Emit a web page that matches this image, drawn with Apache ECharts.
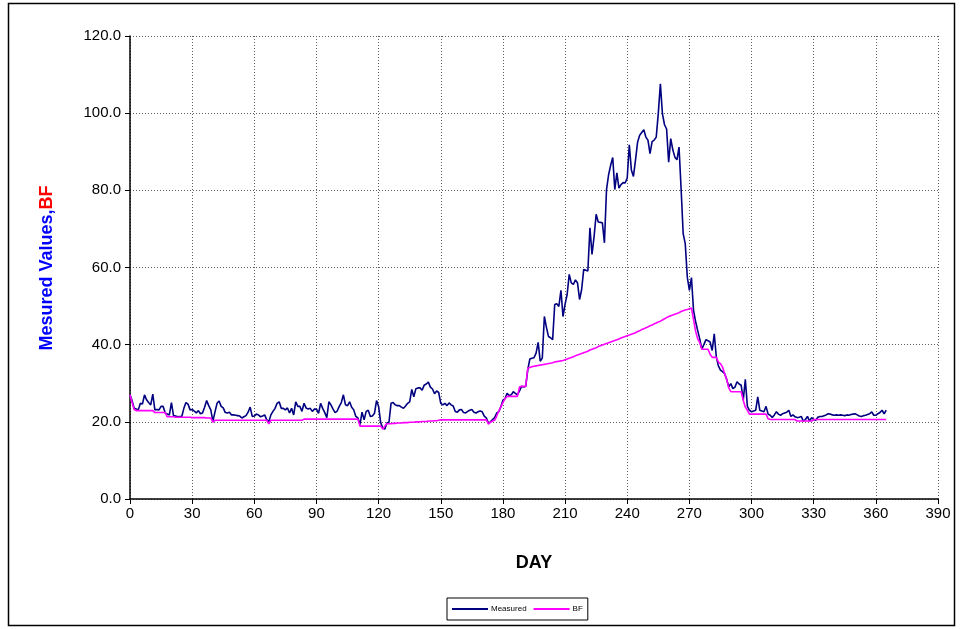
<!DOCTYPE html>
<html>
<head>
<meta charset="utf-8">
<script src="https://cdn.jsdelivr.net/npm/echarts@6/dist/echarts.min.js"></script>
<style>
  html, body { margin: 0; padding: 0; background: #fff; }
  #chart { width: 964px; height: 629px; }
</style>
</head>
<body>
<div id="chart"></div>
<script>
// Daily measured values, day 0 .. 365
const measured = [
  27.0, 25.5, 23.5, 23.3, 23.1, 24.8, 24.6, 27.0, 25.7, 25.0,
  24.4, 27.2, 23.1, 23.2, 23.1, 24.0, 24.0, 22.3, 22.0, 21.8,
  25.0, 21.6, 21.5, 21.3, 21.4, 21.4, 23.5, 25.0, 24.6, 23.1,
  23.2, 22.8, 22.3, 22.9, 22.1, 22.3, 23.8, 25.5, 24.2, 23.1,
  20.1, 22.5, 24.8, 25.4, 24.0, 23.6, 22.4, 22.3, 22.5, 21.8,
  21.8, 21.7, 21.6, 21.5, 21.0, 21.3, 21.6, 22.5, 23.8, 21.4,
  21.5, 22.0, 21.8, 21.3, 21.5, 21.8, 20.5, 20.0, 21.8, 22.7,
  23.5, 24.8, 25.2, 23.5, 23.5, 23.1, 23.6, 22.3, 23.5, 21.8,
  25.2, 24.0, 24.0, 22.7, 24.8, 23.6, 23.3, 23.5, 22.7, 23.3,
  23.3, 22.2, 24.8, 23.5, 22.4, 21.1, 25.2, 24.4, 23.3, 22.4,
  22.8, 24.0, 25.0, 27.0, 24.4, 24.2, 25.2, 23.8, 23.1, 21.4,
  21.0, 19.3, 22.5, 20.5, 22.7, 23.0, 21.4, 21.5, 22.2, 25.5,
  24.0, 19.8, 18.4, 18.1, 19.7, 19.9, 24.8, 25.0, 24.4, 24.2,
  24.2, 23.8, 23.5, 24.1, 24.8, 25.2, 28.4, 26.5, 28.6, 28.8,
  28.8, 28.2, 29.5, 29.8, 30.3, 29.0, 28.5, 27.3, 28.0, 27.6,
  24.8, 24.4, 24.8, 24.2, 24.9, 24.4, 24.1, 22.7, 22.5, 23.1,
  23.2, 22.4, 22.3, 22.7, 23.0, 23.2, 22.5, 22.3, 22.6, 22.8,
  22.6, 21.5, 21.0, 19.7, 20.0, 20.6, 21.1, 22.3, 22.6, 23.9,
  25.6, 26.0, 27.4, 26.8, 27.0, 27.8, 27.4, 27.0, 28.0, 29.2,
  29.0, 29.2, 33.5, 36.3, 36.5, 36.6, 37.8, 40.6, 35.7, 36.5,
  47.3, 44.5, 42.1, 41.8, 41.3, 50.4, 50.6, 49.9, 54.1, 47.3,
  50.5, 53.0, 58.2, 56.0, 55.6, 56.8, 56.0, 51.7, 54.3, 59.5,
  59.3, 59.1, 70.3, 63.4, 68.0, 73.8, 71.8, 71.7, 71.6, 66.4,
  80.2, 84.0, 86.5, 88.5, 80.2, 84.5, 80.6, 81.5, 82.0, 81.9,
  83.2, 91.8, 85.3, 83.6, 87.9, 92.5, 94.3, 95.0, 95.7, 93.8,
  93.0, 89.5, 92.6, 93.0, 93.8, 100.0, 107.6, 99.8, 97.0, 95.9,
  87.3, 93.4, 90.5, 88.6, 87.9, 91.2, 80.4, 68.8, 66.2, 57.5,
  54.1, 57.4, 48.9, 46.0, 43.7, 41.5, 38.9, 40.0, 41.3, 41.0,
  40.7, 38.5, 42.8, 36.8, 34.5, 33.4, 33.0, 32.5, 31.0, 29.1,
  29.9, 28.6, 29.0, 30.4, 29.8, 29.5, 25.6, 31.0, 24.0, 23.0,
  22.6, 22.8, 23.0, 26.5, 23.0, 22.8, 22.6, 24.0, 22.0, 21.7,
  21.1, 21.8, 22.6, 22.0, 21.7, 22.1, 22.3, 22.5, 23.0, 21.4,
  21.8, 21.3, 21.1, 21.2, 21.4, 20.2, 20.6, 21.4, 20.2, 21.1,
  20.6, 20.4, 21.2, 21.4, 21.4, 21.6, 21.8, 22.1, 22.0, 21.8,
  21.7, 21.8, 21.7, 21.8, 21.7, 21.6, 21.8, 21.7, 21.9, 22.0,
  22.1, 21.8, 21.5, 21.4, 21.6, 21.7, 21.9, 22.1, 22.6, 21.7,
  21.7, 22.1, 22.4, 23.0, 22.1, 23.0
];

// Daily BF values, day 0 .. 365
const bf = [
  27.0, 25.0, 23.2, 22.9, 22.9, 22.9, 22.9, 22.9, 22.9, 22.9,
  22.9, 22.9, 22.4, 22.4, 22.4, 22.4, 22.4, 22.4, 21.3, 21.3,
  21.3, 21.3, 21.2, 21.2, 21.2, 21.2, 21.2, 21.2, 21.2, 21.2,
  21.1, 21.1, 21.1, 21.1, 21.1, 21.1, 21.1, 21.0, 21.0, 21.0,
  19.9, 20.4, 20.4, 20.4, 20.4, 20.4, 20.4, 20.4, 20.4, 20.4,
  20.4, 20.4, 20.4, 20.4, 20.4, 20.4, 20.4, 20.4, 20.4, 20.4,
  20.4, 20.4, 20.4, 20.4, 20.4, 20.4, 20.4, 19.5, 20.4, 20.4,
  20.4, 20.4, 20.4, 20.4, 20.4, 20.4, 20.4, 20.4, 20.4, 20.4,
  20.4, 20.4, 20.4, 20.4, 20.7, 20.7, 20.7, 20.7, 20.7, 20.7,
  20.7, 20.7, 20.7, 20.7, 20.7, 20.7, 20.7, 20.7, 20.7, 20.7,
  20.7, 20.7, 20.7, 20.7, 20.7, 20.7, 20.7, 20.7, 20.7, 20.7,
  20.7, 18.9, 18.9, 18.9, 18.9, 18.9, 18.9, 18.9, 18.9, 18.9,
  18.9, 18.9, 18.1, 18.9, 19.5, 19.5, 19.5, 19.6, 19.6, 19.7,
  19.7, 19.7, 19.8, 19.8, 19.8, 19.9, 19.9, 19.9, 20.0, 20.0,
  20.0, 20.1, 20.1, 20.1, 20.2, 20.2, 20.2, 20.3, 20.3, 20.4,
  20.5, 20.5, 20.5, 20.5, 20.5, 20.5, 20.5, 20.5, 20.5, 20.5,
  20.5, 20.5, 20.5, 20.5, 20.5, 20.5, 20.5, 20.5, 20.5, 20.5,
  20.5, 20.5, 20.5, 19.4, 19.9, 20.2, 20.4, 21.5, 22.8, 23.9,
  25.0, 26.0, 26.6, 26.6, 26.6, 26.6, 26.6, 26.6, 29.0, 29.2,
  29.2, 29.2, 33.9, 34.1, 34.3, 34.4, 34.5, 34.6, 34.7, 34.8,
  34.9, 35.0, 35.1, 35.2, 35.3, 35.5, 35.6, 35.7, 35.8, 35.9,
  36.1, 36.3, 36.5, 36.7, 36.9, 37.1, 37.3, 37.5, 37.7, 37.9,
  38.1, 38.3, 38.6, 38.8, 39.0, 39.2, 39.5, 39.7, 39.9, 40.1,
  40.3, 40.5, 40.7, 40.9, 41.1, 41.3, 41.5, 41.7, 41.9, 42.1,
  42.3, 42.5, 42.7, 42.9, 43.1, 43.4, 43.6, 43.9, 44.1, 44.4,
  44.6, 44.9, 45.1, 45.4, 45.6, 45.9, 46.1, 46.4, 46.7, 47.0,
  47.3, 47.5, 47.7, 47.9, 48.1, 48.3, 48.6, 48.8, 49.0, 49.1,
  49.3, 49.5, 46.5, 43.5, 41.5, 40.5, 38.8, 38.8, 38.8, 38.8,
  37.5, 36.7, 36.7, 36.7, 35.5, 35.1, 34.2, 32.5, 31.0, 28.8,
  27.8, 27.8, 27.8, 27.8, 27.8, 27.8, 25.6, 23.8, 23.0, 22.0,
  22.0, 22.0, 22.0, 22.0, 22.0, 22.0, 22.0, 22.0, 20.8, 20.6,
  20.6, 20.6, 20.6, 20.6, 20.6, 20.6, 20.6, 20.6, 20.6, 20.6,
  20.6, 20.6, 20.2, 20.2, 20.2, 20.2, 20.2, 20.2, 20.2, 20.2,
  20.6, 20.6, 20.6, 20.6, 20.6, 20.6, 20.6, 20.6, 20.6, 20.6,
  20.6, 20.6, 20.6, 20.6, 20.6, 20.6, 20.6, 20.6, 20.6, 20.6,
  20.6, 20.6, 20.6, 20.6, 20.6, 20.6, 20.6, 20.6, 20.6, 20.6,
  20.6, 20.6, 20.6, 20.6, 20.6, 20.6
];

const seriesNames = ['Measured', 'BF'];
const xTitle = 'DAY';

const toPairs = arr => arr.map((v, d) => [d, v]);

const chart = echarts.init(document.getElementById('chart'), null, { renderer: 'canvas' });
const font = '"Liberation Sans", Arial, sans-serif';
const gridLine = { show: true, lineStyle: { color: '#606060', width: 1, type: [1, 2] } };

chart.setOption({
  animation: false,
  backgroundColor: '#ffffff',
  graphic: [
    {
      type: 'rect',
      shape: { x: 8.5, y: 3.5, width: 946, height: 622 },
      style: { fill: 'none', stroke: '#000', lineWidth: 1.5 },
      silent: true
    },
    {
      type: 'text',
      x: 47, y: 268,
      rotation: Math.PI / 2,
      style: {
        text: '{a|Mesured Values,}{b|BF}',
        align: 'center',
        verticalAlign: 'middle',
        rich: {
          a: { fill: '#0000ff', fontSize: 18, fontWeight: 'bold', fontFamily: font },
          b: { fill: '#ff0000', fontSize: 18, fontWeight: 'bold', fontFamily: font }
        }
      }
    }
  ],
  grid: { left: 130, top: 36, right: 26, bottom: 130, containLabel: false },
  legend: {
    data: seriesNames,
    orient: 'horizontal',
    left: 447, top: 598,
    padding: [7, 5, 7, 5],
    itemGap: 7,
    itemWidth: 36, itemHeight: 2,
    icon: 'rect',
    borderColor: '#000', borderWidth: 1,
    textStyle: { fontSize: 8, fontFamily: font, color: '#000', padding: [0, 0, 0, -2] }
  },
  xAxis: {
    type: 'value',
    min: 0, max: 390, interval: 30,
    name: xTitle,
    nameLocation: 'middle',
    nameGap: 55,
    nameTextStyle: { fontSize: 18, fontWeight: 'bold', fontFamily: font, color: '#000' },
    axisLine: { show: true, onZero: false, lineStyle: { color: '#000', width: 1.5 } },
    axisTick: { show: true, length: 5, inside: false, lineStyle: { color: '#000' } },
    axisLabel: { fontSize: 15, fontFamily: font, color: '#000', margin: 7 },
    splitLine: gridLine
  },
  yAxis: {
    type: 'value',
    min: 0, max: 120, interval: 20,
    axisLine: { show: true, lineStyle: { color: '#000', width: 1.5 } },
    axisTick: { show: true, length: 5, inside: false, lineStyle: { color: '#000' } },
    axisLabel: { fontSize: 15, fontFamily: font, color: '#000', margin: 9,
      formatter: v => v.toFixed(1) },
    splitLine: gridLine
  },
  series: [
    {
      name: seriesNames[0],
      type: 'line',
      data: toPairs(measured),
      showSymbol: false,
      symbol: 'none',
      lineStyle: { color: '#000080', width: 1.6 },
      itemStyle: { color: '#000080' },
      z: 2
    },
    {
      name: seriesNames[1],
      type: 'line',
      data: toPairs(bf),
      showSymbol: false,
      symbol: 'none',
      lineStyle: { color: '#ff00ff', width: 1.6 },
      itemStyle: { color: '#ff00ff' },
      z: 3
    }
  ]
});
</script>
</body>
</html>
